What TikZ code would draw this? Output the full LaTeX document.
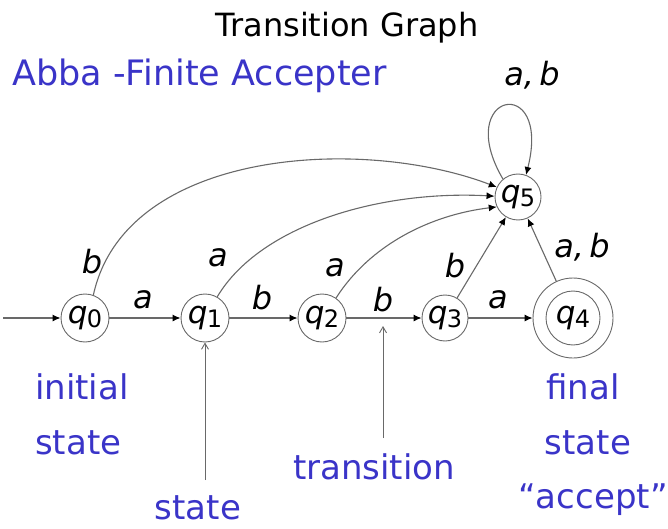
\documentclass[tikz,border=0pt]{standalone}
\usepackage{fontspec}
\setmainfont{DejaVu Sans}
\usetikzlibrary{arrows.meta}
\definecolor{bluetxt}{RGB}{58,52,200}
\definecolor{linegray}{RGB}{105,105,105}
\newcommand{\qsub}[1]{\textit{q}\kern-0.5pt\raisebox{-4pt}{\fontsize{24}{24}\selectfont #1}}
\begin{document}
\begin{tikzpicture}[x=1pt,y=-1pt,
  stnode/.style={circle,draw=linegray,line width=0.9pt,minimum size=48pt,inner sep=0pt,font=\fontsize{31}{31}\selectfont},
  edge/.style={draw=linegray,line width=1.1pt,-{Latex[length=8pt,width=7pt,color=black]}},
  ann/.style={draw=linegray,line width=0.9pt,-{Straight Barb[length=6pt,width=7pt]}},
  lab/.style={font=\fontsize{32}{32}\selectfont\itshape,inner sep=0pt},
  note/.style={font=\fontsize{34}{34}\selectfont,text=bluetxt,inner sep=0pt,anchor=base}]
\useasboundingbox (0,0) rectangle (668,529);

% title and subtitle
\node[font=\fontsize{32}{32}\selectfont,anchor=base,inner sep=0pt] (title) at (347,37) {Transition Graph};
\node[note,anchor=base west,font=\fontsize{35}{35}\selectfont] (sub) at (12,86) {Abba -Finite Accepter};

% states
\node[stnode] (q0) at (85,318) {\qsub{0}};
\node[stnode] (q1) at (205,318) {\qsub{1}};
\node[stnode] (q2) at (322,318) {\qsub{2}};
\node[stnode,minimum size=46pt] (q3) at (445,318) {\qsub{3}};
\node[stnode,minimum size=80pt] (q4) at (573,318) {\qsub{4}};
\draw[linegray,line width=0.9pt] (q4.center) circle[radius=27pt];
\node[stnode,minimum size=46pt] (q5) at (518,197) {\qsub{5}};

% transitions
\coordinate (init) at (3,318);
\draw[edge] (init) -- (q0);
\draw[edge] (q0) -- (q1);
\draw[edge] (q1) -- (q2);
\draw[edge] (q2) -- (q3);
\draw[edge] (q3) -- (q4);
\draw[edge] (q0.70) .. controls (125,150) and (360,135) .. (q5.155);
\draw[edge] (q1.60) .. controls (260,225) and (380,190) .. (q5.178);
\draw[edge] (q2.55) .. controls (370,245) and (430,215) .. (q5.205);
\draw[edge] (q3) -- (q5);
\draw[edge] (q4) -- (q5);
\draw[edge] (q5.130) .. controls (452,92) and (552,72) .. (q5.70);

% transition labels
\node[lab] (lb05) at (92,262) {b};
\node[lab] (la15) at (218,258) {a};
\node[lab] (la25) at (335,268) {a};
\node[lab] (lb35) at (455,266) {b};
\node[lab] (lab45) at (582,247) {a,\,b};
\node[lab] (la01) at (143,300) {a};
\node[lab] (lb12) at (262,298) {b};
\node[lab] (lb23) at (383,300) {b};
\node[lab] (la34) at (498,300) {a};
\node[lab] (lab55) at (532,75) {a,\,b};

% annotations
\coordinate (sAnn) at (205,480);
\draw[ann] (sAnn) -- (q1);
\coordinate (tAnn) at (383,438);
\coordinate (tTip) at (383,326);
\draw[ann] (tAnn) -- (tTip);

\node[note,anchor=base west] (init1) at (35,399) {initial};
\node[note,anchor=base west] (init2) at (35,454) {state};
\node[note] (stl) at (198,519) {state};
\node[note] (trl) at (374,479) {transition};
\node[note] (fin1) at (583,399) {final};
\node[note] (fin2) at (588,454) {state};
\node[note] (fin3) at (593,508) {“accept”};
\end{tikzpicture}
\end{document}
